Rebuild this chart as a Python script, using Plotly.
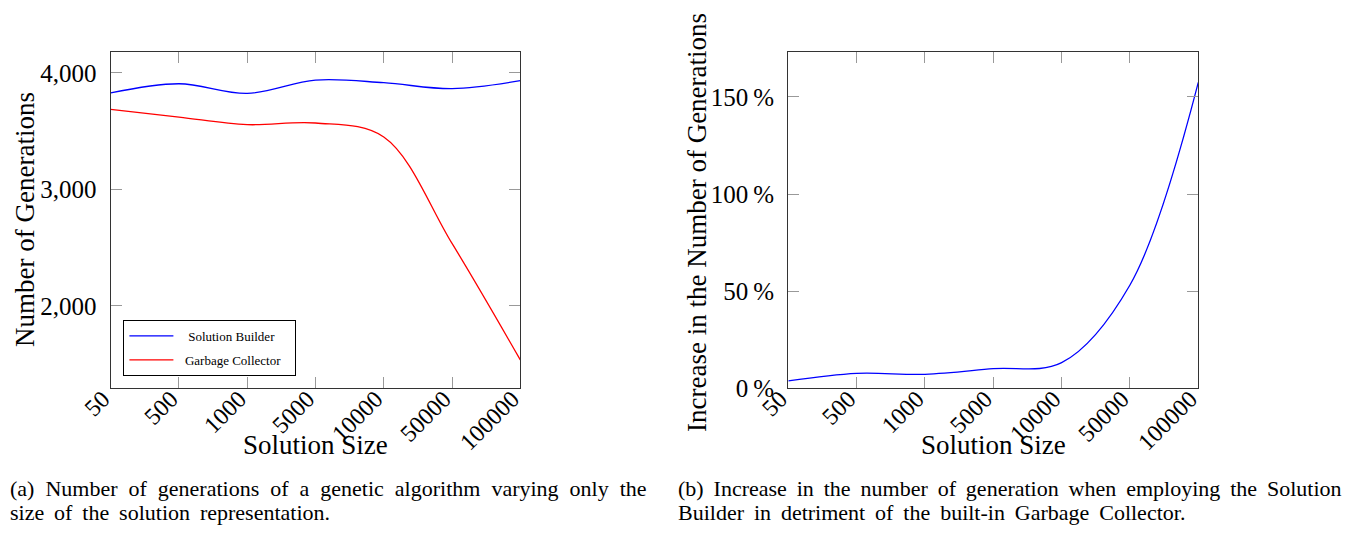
import plotly.graph_objects as go

# ---- data ----
solution_sizes = ["50", "500", "1000", "5000", "10000", "50000", "100000"]
solution_builder = [3828, 3907, 3824, 3938, 3916, 3865, 3933]
garbage_collector = [3687, 3621, 3556, 3570, 3450, 2536, 1536]
increase_pct = [3.8, 7.7, 7.2, 10.1, 13.2, 53.2, 157.5]
left_yticks = [2000, 3000, 4000]
right_yticks = [0, 50, 100, 150]
right_yticklabels = ["0\u2009%", "50\u2009%", "100\u2009%", "150\u2009%"]
series_names = ["Solution Builder", "Garbage Collector"]

W, H = 1367, 539
OFF = 8  # page body margin
FONT = "Liberation Serif, Times New Roman, serif"
idx = list(range(len(solution_sizes)))

def px_x(p):
    return max(p - OFF, 0) / W

def px_y(p):
    return 1 - (p - OFF) / H

NB = "\u00a0"
TS = "\u2009"
fig = go.Figure()
fig.add_trace(go.Scatter(x=idx, y=solution_builder, mode="lines",
                         name=NB * 3 + series_names[0] + NB * 2,
                         line=dict(color="#0000ff", width=1.3, shape="spline", smoothing=1.0),
                         xaxis="x", yaxis="y", legendgroup="a"))
fig.add_trace(go.Scatter(x=idx, y=garbage_collector, mode="lines",
                         name=NB * 2 + series_names[1] + NB * 3,
                         line=dict(color="#ff0000", width=1.3, shape="spline", smoothing=1.0),
                         xaxis="x", yaxis="y", legendgroup="b"))
fig.add_trace(go.Scatter(x=idx, y=increase_pct, mode="lines", name="Increase",
                         line=dict(color="#0000ff", width=1.3, shape="spline", smoothing=1.0),
                         xaxis="x2", yaxis="y2", showlegend=False))

ydom = [px_y(388.3), px_y(52.3)]
axis_common = dict(
    showline=True, linecolor="#333333", linewidth=1.3, mirror="ticks",
    ticks="inside", ticklen=11, tickwidth=1.3, tickcolor="#999999",
    showgrid=False, zeroline=False, automargin=False,
)
xtickfont = dict(family=FONT, size=24, color="black")
ytickfont = dict(family=FONT, size=25, color="black")
xaxis_extra = dict(tickangle=-45, ticklabelshift=-8, ticklabelstandoff=-14, tickfont=xtickfont)

fig.update_layout(
    template="none",
    width=W, height=H, autosize=False,
    margin=dict(l=0, r=0, t=0, b=0, pad=0),
    paper_bgcolor="white", plot_bgcolor="white",
    font=dict(family=FONT, color="black"),
    xaxis=dict(domain=[px_x(110.7), px_x(520.3)], range=[0, 6],
               tickvals=idx, ticktext=solution_sizes,
               anchor="y", **axis_common, **xaxis_extra),
    yaxis=dict(domain=ydom, range=[1292, 4177], tickvals=left_yticks,
               tickformat=",d", anchor="x", ticklabelstandoff=8, tickfont=ytickfont,
               **axis_common),
    xaxis2=dict(domain=[px_x(788.3), px_x(1198.3)], range=[0, 6],
                tickvals=idx, ticktext=solution_sizes,
                anchor="y2", **axis_common, **xaxis_extra),
    yaxis2=dict(domain=ydom, range=[0, 173], tickvals=right_yticks,
                ticktext=right_yticklabels, anchor="x2", ticklabelstandoff=8,
                tickfont=ytickfont, **axis_common),
    showlegend=True,
    legend=dict(x=px_x(123.4), y=px_y(320), xanchor="left", yanchor="top",
                bordercolor="black", borderwidth=1, bgcolor="white",
                font=dict(family=FONT, size=13, color="black"),
                itemwidth=44,
                traceorder="grouped", tracegroupgap=4),
)

ann = []
ann.append(dict(text="Number of Generations", x=0, y=px_y(220), xref="paper", yref="paper",
                showarrow=False, textangle=-90, font=dict(family=FONT, size=27),
                xanchor="left", yanchor="middle"))
ann.append(dict(text="Solution Size", x=px_x(315), y=px_y(445), xref="paper", yref="paper",
                showarrow=False, font=dict(family=FONT, size=27), xanchor="center", yanchor="middle"))
ann.append(dict(text="Increase in the Number of Generations", x=px_x(697), y=px_y(222),
                xref="paper", yref="paper", showarrow=False, textangle=-90,
                font=dict(family=FONT, size=27), xanchor="center", yanchor="middle"))
ann.append(dict(text="Solution Size", x=px_x(993), y=px_y(445), xref="paper", yref="paper",
                showarrow=False, font=dict(family=FONT, size=27), xanchor="center", yanchor="middle"))

def spaced(s, extra):
    return (" " + extra).join(s.split(" "))

captions = [
    (spaced("(a) Number of generations of a genetic algorithm varying only the", NB), 0, 488),
    (spaced("size of the solution representation.", TS), 0, 512),
    (spaced("(b) Increase in the number of generation when employing the Solution", TS), 676, 488),
    (spaced("Builder in detriment of the built-in Garbage Collector.", TS), 676, 512),
]
for t, xp, yp in captions:
    ann.append(dict(text=t, x=px_x(xp), y=px_y(yp), xref="paper", yref="paper", showarrow=False,
                    font=dict(family=FONT, size=22), xanchor="left", yanchor="middle"))
fig.update_layout(annotations=ann)

fig.write_html("out.html")
